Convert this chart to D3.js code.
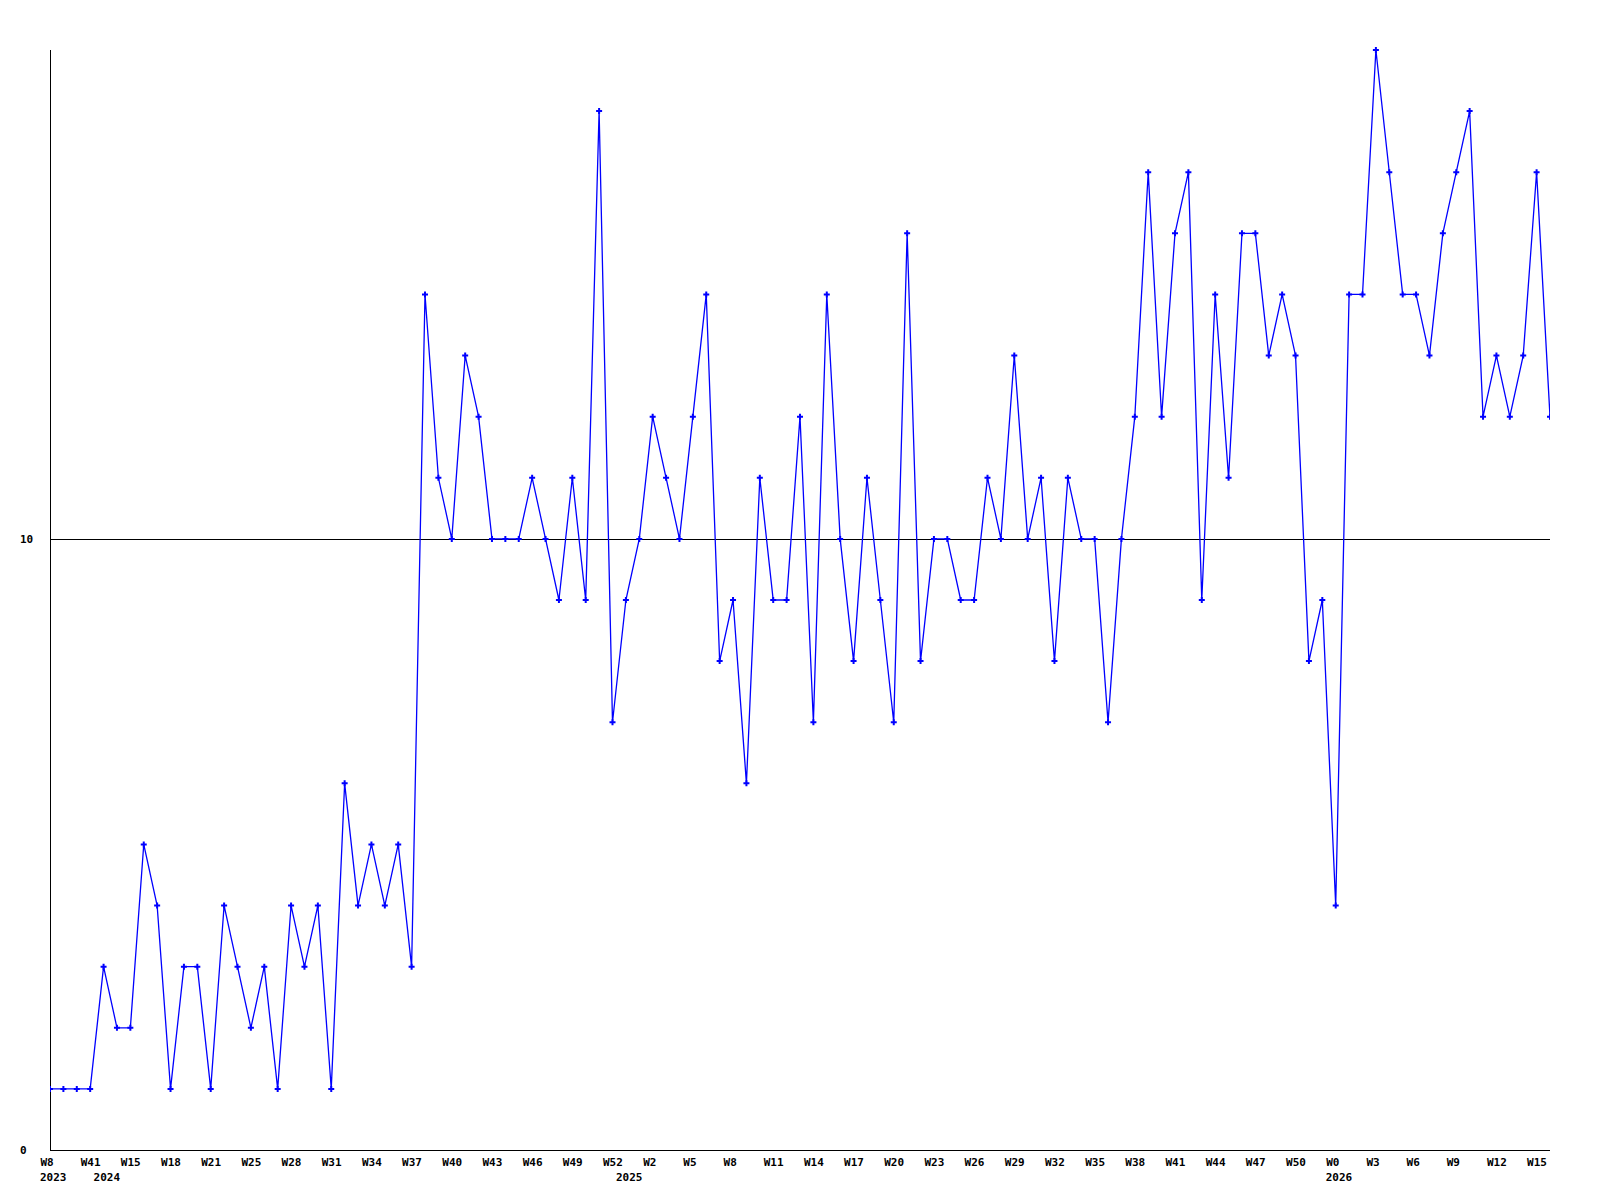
<!DOCTYPE html>
<html>
<head>
<meta charset="utf-8">
<script src="https://cdn.jsdelivr.net/npm/d3@7"></script>
<style>
  body { margin: 0; background: #fff; }
  text { font-family: "DejaVu Sans Mono", monospace; font-size: 11px; font-weight: bold; fill: #000; }
</style>
</head>
<body>
<script>
// weekly values, one per point
var values = [
  1,1,1,1,3,2,2,5,4,1,3,3,1,4,3,2,3,1,4,3,4,1,6,4,5,4,5,3,
  14,11,10,13,12,10,10,10,11,10,9,11,9,17,7,9,10,12,11,10,12,14,
  8,9,6,11,9,9,12,7,14,10,8,11,9,7,15,8,10,10,9,9,11,10,13,10,
  11,8,11,10,10,7,10,12,16,12,15,16,9,14,11,15,15,13,14,13,8,9,4,
  14,14,18,16,14,14,13,15,16,17,12,13,12,13,16,12
];
// week labels, every third point
var weekLabels = ['W8','W41','W15','W18','W21','W25','W28','W31','W34','W37','W40','W43','W46',
  'W49','W52','W2','W5','W8','W11','W14','W17','W20','W23','W26','W29','W32','W35','W38',
  'W41','W44','W47','W50','W0','W3','W6','W9','W12','W15'];
var yearLabels = ['2023','2024','2025','2026'];
var yearIndex = [0,4,43,96];
var yTicks = [0,10];

var W = 1600, H = 1200;
var padL = 50, padR = 1550, padT = 50, padB = 1150;

var svg = d3.select('body').append('svg').attr('width',W).attr('height',H);

var x = d3.scaleLinear().domain([0, values.length-1]).range([padL,padR]);
var y = d3.scaleLinear().domain([0,18]).range([padB,padT]);

svg.append('defs').append('clipPath').attr('id','plot')
  .append('rect').attr('x',padL).attr('y',padT-5).attr('width',padR-padL).attr('height',padB-padT+5);

// axes
svg.append('line').attr('x1',padL+0.5).attr('x2',padL+0.5).attr('y1',padT).attr('y2',padB)
  .style('stroke','#000');
svg.append('line').attr('x1',padL).attr('x2',padR).attr('y1',padB+0.5).attr('y2',padB+0.5)
  .style('stroke','#000');

// y ticks + horizontal line at 10
yTicks.forEach(function(t){
  var yy = Math.round(y(t));
  svg.append('text').attr('x',20).attr('y',yy+4).text(t);
  if(t>0){
    svg.append('line').attr('x1',padL).attr('x2',padR).attr('y1',yy+0.5).attr('y2',yy+0.5)
      .style('stroke','#000');
  }
});

// x labels
svg.selectAll('text.wk').data(weekLabels).enter().append('text').attr('class','wk')
  .attr('x',function(d,i){return x(i*3)-9.5;})
  .attr('y',1166)
  .text(function(d){return d;});
svg.selectAll('text.yr').data(yearLabels).enter().append('text').attr('class','yr')
  .attr('x',function(d,i){return x(yearIndex[i])-10;})
  .attr('y',1181)
  .text(function(d){return d;});

// series
var g = svg.append('g').attr('clip-path','url(#plot)');
var line = d3.line().x(function(d,i){return x(i);}).y(function(d){return y(d);});
g.append('path').datum(values).attr('d',line)
  .attr('fill','none').style('stroke','#0000ff').style('stroke-width',1.3);

var mark = d3.symbol().type(d3.symbolCross).size(20);
g.selectAll('path.pt').data(values).enter().append('path').attr('class','pt')
  .attr('d',mark)
  .attr('transform',function(d,i){return 'translate('+x(i)+','+y(d)+')';})
  .attr('fill','#0000ff');
</script>
</body>
</html>
